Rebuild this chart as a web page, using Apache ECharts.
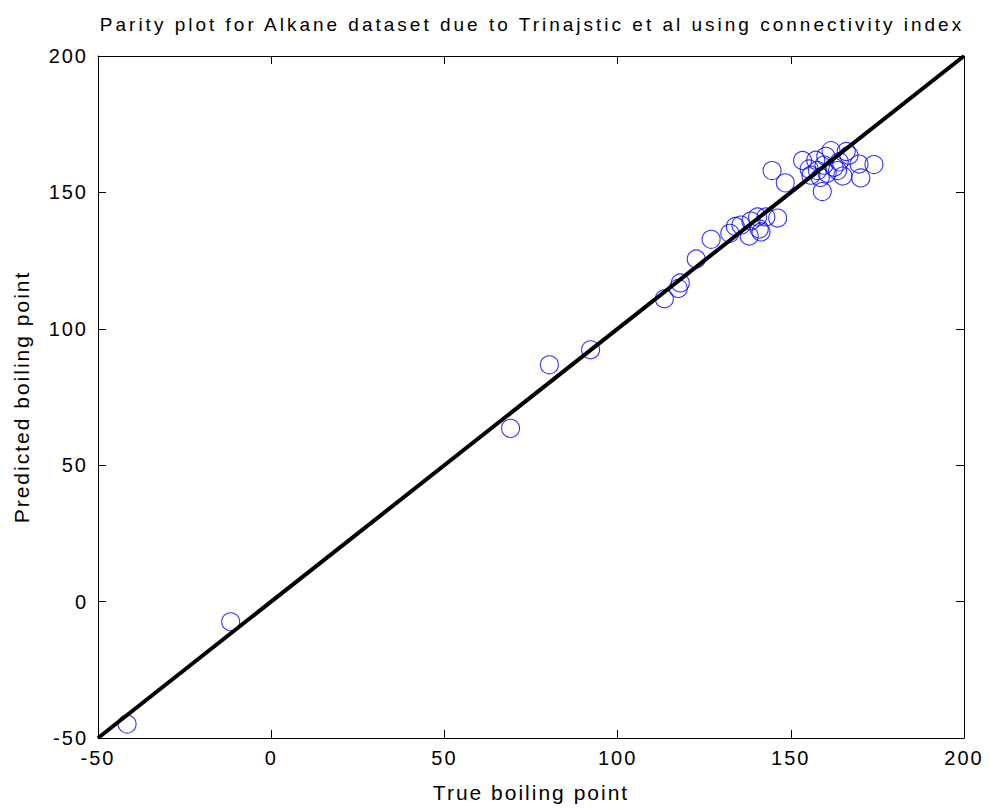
<!DOCTYPE html>
<html>
<head>
<meta charset="utf-8">
<script src="https://cdn.jsdelivr.net/npm/echarts@6/dist/echarts.min.js"></script>
<style>
  html, body { margin: 0; padding: 0; background: #fff; }
  #chart { width: 989px; height: 809px; }
  /* the reference text is spread out a bit */
  #chart text { letter-spacing: 2px; }
  #chart text[style*="19px"], #chart text[font-size="19px"], #chart text[font-size="19"] { letter-spacing: 3px; }
</style>
</head>
<body>
<div id="chart"></div>
<script>
// true vs predicted boiling points
var trueBP = [
  -41.6, -11.7, 69.1, 80.3, 92.2, 113.5, 117.5, 118.1, 122.7, 127.0,
  132.4, 134.0, 135.6, 138.0, 138.5, 140.4, 140.9, 141.4, 142.8, 146.2,
  144.6, 148.4,
  153.4, 155.3, 155.8, 157.2, 157.7, 158.5, 159.1, 159.6, 160.1, 160.5,
  161.6, 162.5, 163.5, 164.0, 165.0, 166.0, 166.8, 169.7, 170.2, 174.0
]
var predBP = [
  -44.9, -7.4, 63.5, 86.8, 92.3, 111.0, 114.8, 116.8, 125.6, 132.8,
  135.0, 137.5, 138.0, 134.0, 139.5, 141.0, 136.6, 135.5, 141.0, 140.6,
  158.0, 153.5,
  161.7, 158.6, 156.3, 161.8, 158.0, 155.5, 150.3, 160.0, 163.2, 157.0,
  165.3, 159.2, 158.0, 161.2, 156.0, 165.0, 163.6, 160.4, 155.3, 160.2
]
var parityLine = [[-50, -50], [200, 200]]

var font = 'Liberation Sans, Arial, sans-serif'
var chart = echarts.init(document.getElementById('chart'), null, { renderer: 'svg' })

function mkAxis (pos, name, showLabel) {
  return {
    type: 'value',
    position: pos,
    min: -50,
    max: 200,
    interval: 50,
    name: name,
    nameLocation: 'middle',
    nameGap: pos === 'left' ? 66 : 44,
    nameTextStyle: { fontFamily: font, fontSize: 21, color: '#000' },
    axisLine: { show: true, onZero: false, lineStyle: { color: '#000', width: 1 } },
    axisTick: { show: true, inside: true, length: 8, lineStyle: { color: '#000' } },
    axisLabel: {
      show: showLabel,
      margin: 10,
      fontFamily: font,
      fontSize: 20,
      color: '#000'
    },
    splitLine: { show: false }
  }
}

var pts = trueBP.map(function (x, i) { return [x, predBP[i]] })

chart.setOption({
  backgroundColor: '#fff',
  animation: false,
  title: {
    text: 'Parity plot for Alkane dataset due to Trinajstic et al using connectivity index',
    left: 527,
    textAlign: 'center',
    top: 10,
    textStyle: { fontFamily: font, fontSize: 19, fontWeight: 'normal', color: '#000' }
  },
  grid: { left: 98, right: 25, top: 56, bottom: 71 },
  xAxis: [
    mkAxis('bottom', 'True boiling point', true),
    mkAxis('top', '', false)
  ],
  yAxis: [
    mkAxis('left', 'Predicted boiling point', true),
    mkAxis('right', '', false)
  ],
  series: [
    {
      type: 'line',
      data: parityLine,
      symbol: 'none',
      lineStyle: { color: '#000', width: 4 },
      z: 3
    },
    {
      type: 'scatter',
      data: pts,
      symbol: 'circle',
      symbolSize: 18,
      itemStyle: { color: 'rgba(0,0,0,0)', borderColor: '#0000ff', borderWidth: 1.1 },
      z: 2
    }
  ]
})
</script>
</body>
</html>
